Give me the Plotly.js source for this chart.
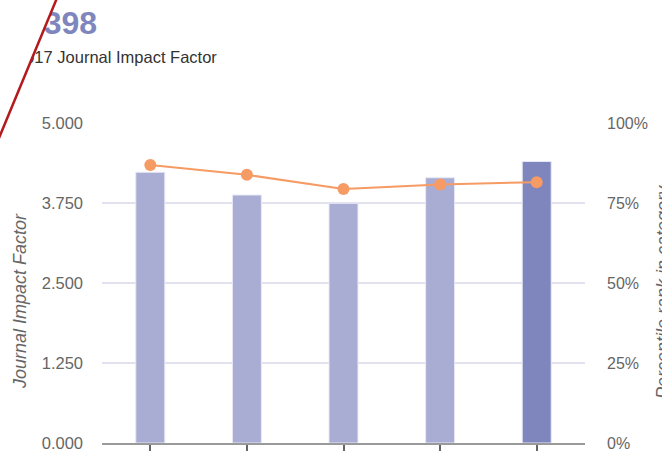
<!DOCTYPE html>
<html>
<head>
<meta charset="utf-8">
<script src="https://cdn.plot.ly/plotly-3.0.1.min.js"></script>
<style>
  html, body { margin: 0; padding: 0; background: #fff; }
  #wrap { position: relative; width: 662px; height: 451px; overflow: hidden; }
  #chart { width: 662px; height: 451px; }
  #mask { position: absolute; left: 0; top: 0; pointer-events: none; }
</style>
</head>
<body>
<div id="wrap">
  <div id="chart"></div>
  <svg id="mask" width="662" height="451">
    <polygon points="0,0 56,0 0,136" fill="#ffffff"></polygon>
    <line x1="57" y1="-2" x2="-1" y2="138" stroke="#b3191d" stroke-width="2.5"></line>
  </svg>
</div>
<script>
// Data
const years = ['2013', '2014', '2015', '2016', '2017'];
const impactFactor = [4.23, 3.875, 3.745, 4.145, 4.398];
const percentile = [86.9, 83.8, 79.4, 80.8, 81.5];
const leftTicks = [0, 1.25, 2.5, 3.75, 5];
const leftTickText = ['0.000', '1.250', '2.500', '3.750', '5.000'];
const rightTicks = [0, 25, 50, 75, 100];
const rightTickText = ['0%', '25%', '50%', '75%', '100%'];
const headline = '4.398';
const subline = '2017 Journal Impact Factor';

const barColors = years.map((y, i) => i === years.length - 1 ? '#7e86bd' : '#a9add4');

const W = 662, H = 451, L = 102, R = 77, T = 123, B = 8;
const pw = W - L - R, ph = H - T - B;
const px = x => (x - L) / pw;
const py = y => (H - B - y) / ph;

const font = 'Arial, "Liberation Sans", Helvetica, sans-serif';

const traces = [
  {
    type: 'bar',
    x: years,
    y: impactFactor,
    marker: { color: barColors, line: { color: '#e8e9f6', width: 1 } },
    width: 0.3,
    hoverinfo: 'none',
    yaxis: 'y'
  },
  {
    type: 'scatter',
    mode: 'lines+markers',
    x: years,
    y: percentile,
    yaxis: 'y2',
    line: { color: '#f59b63', width: 2 },
    marker: { color: '#f59b63', size: 12 },
    hoverinfo: 'none'
  }
];

const layout = {
  width: W, height: H,
  margin: { l: L, r: R, t: T, b: B, pad: 0 },
  paper_bgcolor: '#ffffff',
  plot_bgcolor: '#ffffff',
  showlegend: false,
  font: { family: font, color: '#666' },
  xaxis: {
    type: 'category',
    showgrid: false,
    showline: true,
    linecolor: '#9a9a9a',
    linewidth: 2,
    ticks: 'outside',
    ticklen: 10,
    tickwidth: 2,
    tickcolor: '#666',
    showticklabels: false,
    zeroline: false,
    fixedrange: true
  },
  yaxis: {
    range: [0, 5],
    tickvals: leftTicks,
    ticktext: leftTickText,
    showgrid: true,
    gridcolor: '#e2e2ee',
    gridwidth: 2,
    zeroline: false,
    showline: false,
    ticks: '',
    ticklabelstandoff: 18,
    ticklabeloverflow: 'allow',
    tickfont: { size: 16.5, color: '#666', family: font },
    fixedrange: true
  },
  yaxis2: {
    range: [0, 100],
    overlaying: 'y',
    side: 'right',
    tickvals: rightTicks,
    ticktext: rightTickText,
    showgrid: false,
    zeroline: false,
    showline: false,
    ticks: '',
    ticklabelstandoff: 21,
    ticklabeloverflow: 'allow',
    tickfont: { size: 16, color: '#666', family: font },
    fixedrange: true
  },
  annotations: [
    {
      xref: 'paper', yref: 'paper', x: px(15), y: py(23),
      xanchor: 'left', yanchor: 'middle', showarrow: false,
      text: '<b>' + headline + '</b>',
      font: { size: 32, color: '#7e86bd', family: font }
    },
    {
      xref: 'paper', yref: 'paper', x: px(14), y: py(57),
      xanchor: 'left', yanchor: 'middle', showarrow: false,
      text: subline,
      font: { size: 16.5, color: '#333', family: font }
    },
    {
      xref: 'paper', yref: 'paper', x: px(20), y: py(301),
      xanchor: 'center', yanchor: 'middle', showarrow: false,
      textangle: -90,
      text: '<i>Journal Impact Factor</i>',
      font: { size: 18, color: '#666', family: font }
    },
    {
      xref: 'paper', yref: 'paper', x: px(663), y: py(292),
      xanchor: 'center', yanchor: 'middle', showarrow: false,
      textangle: -90,
      text: '<i>Percentile rank in category</i>',
      font: { size: 18, color: '#666', family: font }
    }
  ]
};

Plotly.newPlot('chart', traces, layout, { displayModeBar: false, staticPlot: true });
</script>
</body>
</html>
